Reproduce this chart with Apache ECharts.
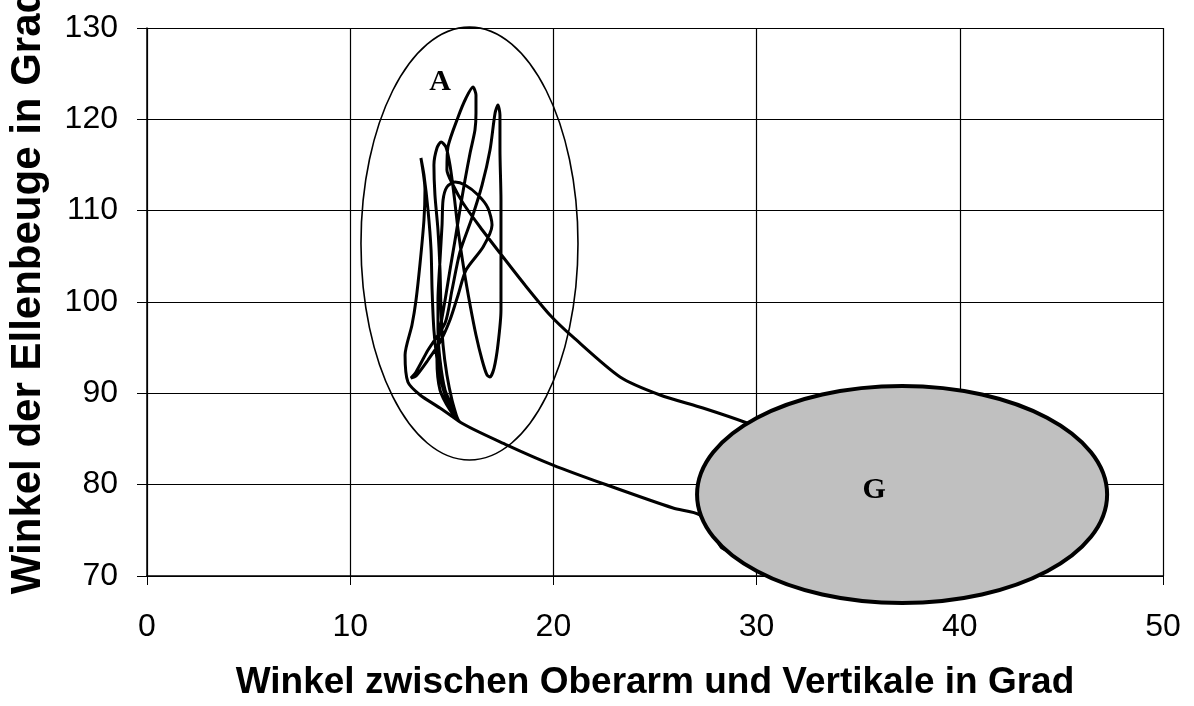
<!DOCTYPE html>
<html>
<head>
<meta charset="utf-8">
<script src="https://cdn.jsdelivr.net/npm/echarts@6/dist/echarts.min.js"></script>
<style>
  html, body { margin: 0; padding: 0; background: #fff; }
  #chart { width: 1194px; height: 706px; }
</style>
</head>
<body>
<div id="chart"></div>
<script>
// Winkel zwischen Oberarm und Vertikale (x), Winkel der Ellenbeuge (y)
var armAngle = [
  31.64, 29.53, 27.36, 25.25, 23.28, 20.96, 19.83, 18.60, 17.37, 16.39,
  15.55, 15.06, 14.76, 14.81, 15.31, 15.70, 16.04, 16.19, 16.19, 16.14,
  15.90, 15.65, 15.40, 15.16, 14.91, 14.67, 14.42, 14.27, 14.42, 14.91,
  15.40, 14.42, 13.44, 12.84, 12.70, 13.04, 13.24, 13.44, 13.63, 13.68,
  13.48, 13.63, 13.83, 13.98, 14.03, 14.12, 14.32, 14.67, 15.31, 15.01,
  14.76, 14.57, 14.47, 14.42, 14.32, 14.17, 14.12, 14.27, 14.47, 14.71,
  14.91, 15.11, 15.31, 15.60, 15.90, 16.19, 16.49, 16.73, 16.88, 17.08,
  17.27, 17.42, 17.42, 17.42, 17.37, 17.37, 17.27, 17.13, 16.88, 16.49,
  15.99, 15.40, 15.01, 14.67, 13.83, 13.24, 12.99, 13.24, 13.83, 14.42,
  14.91, 15.31, 15.70, 16.54, 16.98, 16.78, 16.29, 15.65, 15.16, 14.76,
  14.57, 14.52, 14.42, 14.32, 14.32, 14.42, 14.67, 15.16, 15.40, 17.72,
  19.98, 22.64, 25.89, 27.21, 28.00, 28.30, 29.18
];
var elbowAngle = [
  84.89, 86.75, 88.39, 89.82, 91.79, 96.17, 98.58, 101.86, 105.36, 108.21,
  110.84, 112.81, 114.45, 116.97, 120.26, 122.34, 123.54, 122.66, 120.69, 118.83,
  116.31, 113.36, 110.07, 106.79, 103.50, 100.22, 96.93, 93.65, 90.36, 88.17,
  86.86, 88.39, 89.82, 91.24, 94.20, 97.48, 100.22, 104.27, 108.98, 112.26,
  115.77, 113.91, 110.07, 105.69, 101.31, 96.93, 93.10, 89.82, 86.97, 89.27,
  92.01, 95.29, 99.12, 103.50, 107.88, 111.72, 115.00, 116.86, 117.52, 116.97,
  115.00, 111.72, 107.88, 103.50, 99.67, 96.39, 93.65, 92.01, 91.79, 92.77,
  95.29, 99.12, 104.60, 111.17, 116.64, 120.47, 121.57, 120.69, 116.64, 112.81,
  109.20, 105.47, 101.31, 97.70, 94.74, 92.34, 91.68, 91.90, 93.65, 95.62,
  98.03, 100.77, 103.50, 106.02, 108.43, 110.29, 111.72, 112.81, 113.14, 112.59,
  111.17, 108.43, 104.60, 100.22, 96.93, 93.65, 90.36, 87.96, 86.86, 84.34,
  82.15, 79.96, 77.44, 76.68, 74.16, 73.06, 72.30
];

// Bereiche A und G als Ellipsen (Mitte x, Mitte y, Halbachse x, Halbachse y)
var zoneNames = ['A', 'G'];
var zoneCenterX = [15.87, 37.16];
var zoneCenterY = [106.4, 78.92];
var zoneRadiusX = [5.34, 10.09];
var zoneRadiusY = [23.7, 11.88];
var zoneLabelX = [14.42, 35.78];
var zoneLabelY = [124.1, 79.4];

var xTicks = [0, 50, 10];
var yTicks = [70, 130, 10];

var zoneStyles = [
  { fill: 'none', stroke: '#000', lineWidth: 1.6 },
  { fill: '#c0c0c0', stroke: '#000', lineWidth: 4 }
];

var pathData = armAngle.map(function (x, i) { return [x, elbowAngle[i]]; });
var zoneData = zoneNames.map(function (n, i) {
  return [zoneCenterX[i], zoneCenterY[i], zoneRadiusX[i], zoneRadiusY[i]];
});
var labelData = zoneNames.map(function (n, i) {
  return { value: [zoneLabelX[i], zoneLabelY[i]], name: n };
});

var chart = echarts.init(document.getElementById('chart'));
var font = 'Liberation Sans, Arial, sans-serif';

var option = {
  animation: false,
  backgroundColor: '#fff',
  grid: { left: 147, right: 31, top: 28, bottom: 130, outerBoundsMode: 'none', containLabel: false },
  xAxis: {
    type: 'value',
    min: xTicks[0], max: xTicks[1], interval: xTicks[2],
    name: 'Winkel zwischen Oberarm und Vertikale in Grad',
    nameLocation: 'middle',
    nameGap: 88,
    nameTextStyle: { fontFamily: font, fontWeight: 'bold', fontSize: 37, color: '#000' },
    axisLine: { show: true, lineStyle: { color: '#000', width: 1.5 } },
    axisTick: { show: true, length: 9, lineStyle: { color: '#000', width: 1 } },
    axisLabel: { fontFamily: font, fontSize: 32, color: '#000', margin: 35 },
    splitLine: { show: true, lineStyle: { color: '#000', width: 1.2 } }
  },
  yAxis: {
    type: 'value',
    min: yTicks[0], max: yTicks[1], interval: yTicks[2],
    name: 'Winkel der Ellenbeuge in Grad',
    nameLocation: 'middle',
    nameGap: 98,
    nameTextStyle: {
      fontFamily: font, fontWeight: 'bold', fontSize: 42, color: '#000',
      padding: [0, 0, 0, 22]
    },
    axisLine: { show: true, lineStyle: { color: '#000', width: 1.5 } },
    axisTick: { show: true, length: 10, lineStyle: { color: '#000', width: 1 } },
    axisLabel: { fontFamily: font, fontSize: 32, color: '#000', margin: 29 },
    splitLine: { show: true, lineStyle: { color: '#000', width: 1.2 } }
  },
  series: [
    {
      type: 'line',
      data: pathData,
      showSymbol: false,
      smooth: 0.25,
      z: 2,
      lineStyle: { color: '#000', width: 3 }
    },
    {
      type: 'custom',
      data: zoneData,
      encode: { x: 0, y: 1 },
      z: 3,
      renderItem: function (params, api) {
        var c = api.coord([api.value(0), api.value(1)]);
        var s = api.size([api.value(2), api.value(3)]);
        var st = zoneStyles[params.dataIndex];
        return {
          type: 'ellipse',
          shape: { cx: c[0], cy: c[1], rx: s[0], ry: s[1] },
          style: { fill: st.fill, stroke: st.stroke, lineWidth: st.lineWidth }
        };
      }
    },
    {
      type: 'custom',
      data: labelData,
      encode: { x: 0, y: 1 },
      z: 4,
      renderItem: function (params, api) {
        var c = api.coord([api.value(0), api.value(1)]);
        return {
          type: 'text',
          x: c[0], y: c[1],
          style: {
            text: zoneNames[params.dataIndex],
            fontFamily: 'Liberation Serif, Times New Roman, serif',
            fontWeight: 'bold',
            fontSize: 30,
            fill: '#000',
            align: 'center',
            verticalAlign: 'middle'
          }
        };
      }
    }
  ]
};

chart.setOption(option);
</script>
</body>
</html>
